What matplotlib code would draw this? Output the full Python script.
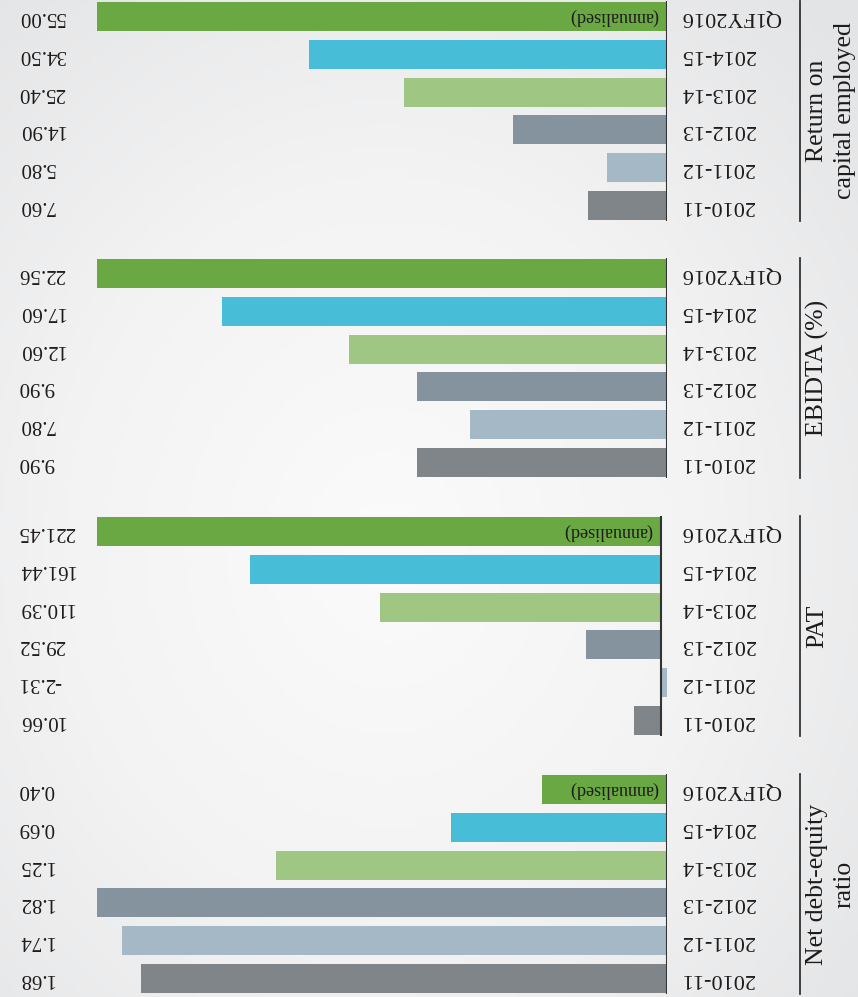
import numpy as np
import matplotlib.pyplot as plt
from matplotlib import transforms
from matplotlib.colors import LinearSegmentedColormap

# data (top bar first)
years = ['Q1FY2016', '2014-15', '2013-14', '2012-13', '2011-12', '2010-11']
roce = [55.00, 34.50, 25.40, 14.90, 5.80, 7.60]
ebidta = [22.56, 17.60, 12.60, 9.90, 7.80, 9.90]
pat = [221.45, 161.44, 110.39, 29.52, -2.31, 10.66]
debt_equity = [0.40, 0.69, 1.25, 1.82, 1.74, 1.68]

panels = [
    ('Return on\ncapital employed', roce, True),
    ('EBIDTA (%)', ebidta, False),
    ('PAT', pat, True),
    ('Net debt-equity\nratio', debt_equity, True),
]

colors = ['#69a843', '#47bdd7', '#9fc683', '#84939d', '#a5b8c5', '#808589']
text_color = '#1e1b1c'

plt.rcParams['font.family'] = ['Liberation Serif', 'DejaVu Serif']

W, H = 858, 997
fig = plt.figure(figsize=(W / 100, H / 100), dpi=100)

# soft radial background, light in the middle, grey at the rim
bg = fig.add_axes([0, 0, 1, 1], zorder=-10)
yy, xx = np.mgrid[0:1:200j, 0:1:200j]
r = np.sqrt(((xx - 0.45) / 0.75) ** 2 + ((yy - 0.55) / 0.75) ** 2)
bg_cmap = LinearSegmentedColormap.from_list('bg', ['#fbfbfb', '#f3f3f4', '#e3e4e5'])
bg.imshow(np.clip(r, 0, 1), cmap=bg_cmap, vmin=0, vmax=1,
          extent=[0, 1, 0, 1], aspect='auto')
bg.axis('off')

pitch = 37.8      # px between bars
bar_h = 29 / pitch
tops = [2, 259, 517, 775]
x_left, x_base = 97, 667

for (title, vals, annualised), top in zip(panels, tops):
    ax_top = top + 14.5 - pitch / 2
    ax_h = pitch * 6
    ax = fig.add_axes([x_left / W, 1 - (ax_top + ax_h) / H,
                       (x_base - x_left) / W, ax_h / H])
    ax.set_facecolor('none')
    y = np.arange(len(years))
    ax.barh(y, vals, height=bar_h, color=colors)
    lo = min(0, min(vals))
    ax.set_xlim(max(vals), lo)
    ax.set_ylim(5.5, -0.5)
    ax.axis('off')
    ax.vlines(0, -bar_h / 2 - 0.02, 5 + bar_h / 2 + 0.02, color='#333333', lw=1.5)

    tr = transforms.blended_transform_factory(fig.transFigure, ax.transData)
    for yi, (lab, v) in enumerate(zip(years, vals)):
        ax.text(681 / W, yi, lab, transform=tr, rotation=180, ha='left',
                va='center', fontsize=16, color=text_color)
        ax.text(18 / W, yi, f'{v:.2f}', transform=tr, rotation=180, ha='left',
                va='center', fontsize=15, color=text_color)
    if annualised:
        base_px = x_left + (x_base - x_left) * max(vals) / (max(vals) - lo)
        ax.text((base_px - 9) / W, 0, '(annualised)', transform=tr, rotation=180,
                ha='right', va='center', fontsize=13, color=text_color)

    ax.plot([800 / W, 800 / W], [-0.42, 5.42], transform=tr, color='#333333',
            lw=1.3, clip_on=False)
    ax.text(806 / W, 2.5, title, transform=tr, rotation=90, ha='left',
            va='center', fontsize=18.5, color=text_color, multialignment='center',
            linespacing=1.35)

fig.savefig('out.png', dpi=100)
